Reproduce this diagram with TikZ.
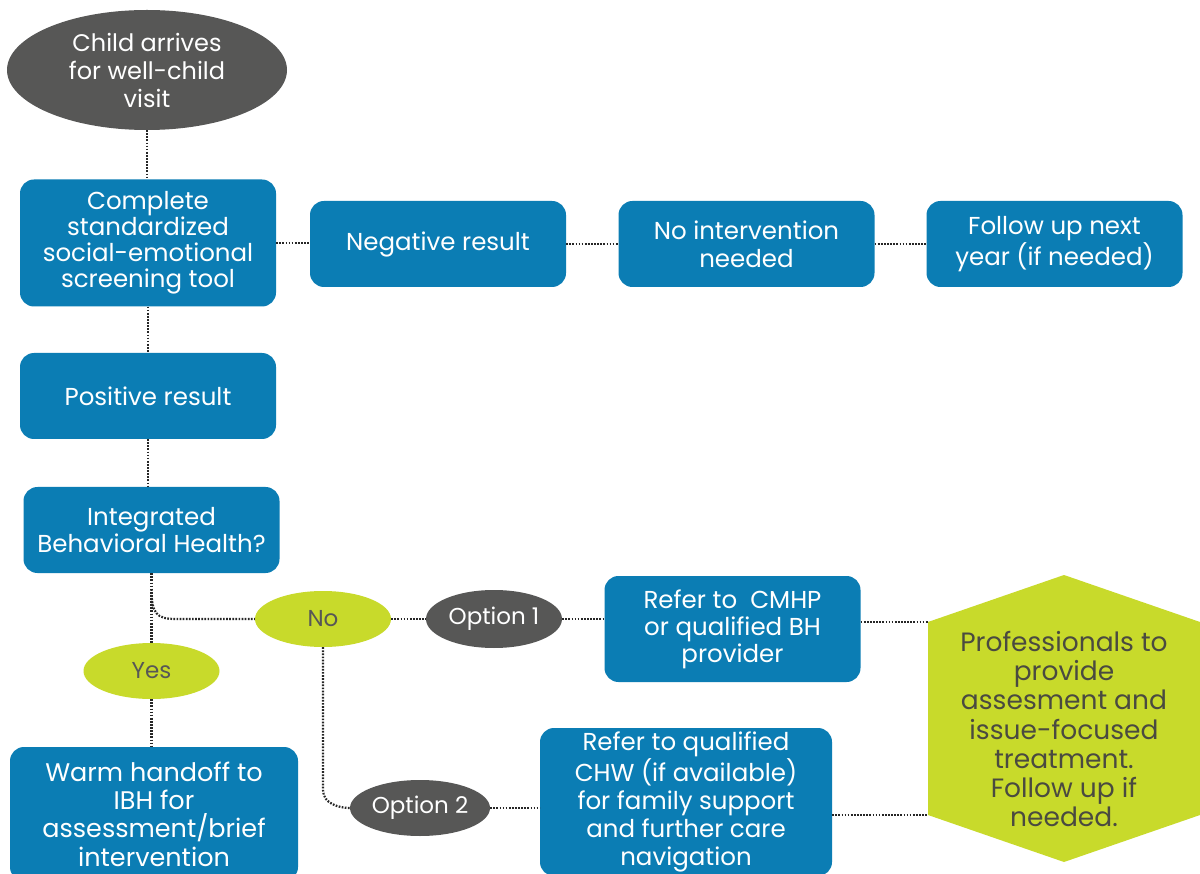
\documentclass[tikz,border=0pt]{standalone}
\usepackage{fontspec}
\setmainfont{Poppins}
\usetikzlibrary{shapes.geometric}
\definecolor{flowblue}{HTML}{0B7DB4}
\definecolor{flowgray}{HTML}{575756}
\definecolor{flowlime}{HTML}{C8DA2B}
\definecolor{hextext}{HTML}{4A4A40}

\begin{document}
\begin{tikzpicture}[x=1pt, y=-1pt,
  every node/.style={font=\fontsize{24.5}{27}\selectfont, align=center, inner sep=0pt},
  bluebox/.style={fill=flowblue, text=white, rounded corners=14pt, minimum width=256pt, minimum height=86pt},
  grayoval/.style={ellipse, fill=flowgray, text=white, minimum width=136pt, minimum height=58pt, font=\fontsize{23}{27}\selectfont},
  limeoval/.style={ellipse, fill=flowlime, text=flowgray, minimum width=136pt, minimum height=56pt, font=\fontsize{23}{27}\selectfont},
  link/.style={draw=black!85, line width=2.2pt, dash pattern=on 1.7pt off 1.4pt}]
  \fill[white] (0,0) rectangle (1200,874);
  \useasboundingbox (0,0) rectangle (1200,874);
  \node[grayoval, minimum width=280pt, minimum height=120pt, font=\fontsize{24}{28}\selectfont] (arrive) at (147,70) {Child arrives\\for well-child\\visit};
  \node[bluebox, minimum height=127pt, font=\fontsize{24.5}{26}\selectfont] (screen) at (148,243) {Complete\\standardized\\social-emotional\\screening tool};
  \node[bluebox] (neg) at (438,244) {Negative result};
  \node[bluebox, font=\fontsize{24.5}{28}\selectfont] (noint) at (746.5,244) {No intervention\\needed};
  \node[bluebox, font=\fontsize{24.5}{28}\selectfont] (follow) at (1054.5,244) {Follow up next\\year (if needed)};
  \node[bluebox] (pos) at (148,396) {Positive result};
  \node[bluebox] (ibh) at (151.5,530) {Integrated\\Behavioral Health?};
  \node[limeoval] (no) at (323,619) {No};
  \node[limeoval] (yes) at (151.5,671) {Yes};
  \node[grayoval] (opt1) at (494,619) {Option 1};
  \node[grayoval, minimum width=140pt, minimum height=56pt] (opt2) at (420,808) {Option 2};
  \node[bluebox, minimum height=106pt] (cmhp) at (732.5,629) {Refer to\ \ CMHP\\or qualified BH\\provider};
  \node[bluebox, minimum width=292pt, minimum height=148pt, font=\fontsize{24.5}{28}\selectfont] (chw) at (686,802) {Refer to qualified\\CHW (if available)\\for family support\\and further care\\navigation};
  \node[bluebox, minimum width=288pt, minimum height=134pt, font=\fontsize{25.5}{28.3}\selectfont] (warm) at (154,814) {Warm handoff to\\IBH for\\assessment/brief\\intervention};
  \fill[flowlime] (1064,575) -- (1200,622) -- (1200,815) -- (1064,862) -- (928,815) -- (928,622) -- cycle;
  \coordinate (hexA) at (928,622);
  \coordinate (hexB) at (928,815);
  \node[text=hextext, font=\fontsize{26.5}{29.3}\selectfont] (prof) at (1064,729) {Professionals to\\provide\\assesment and\\issue-focused\\treatment.\\Follow up if\\needed.};
  \draw[link] (arrive.south) -- (arrive.south |- screen.north);
  \draw[link] (screen.east) -- (screen.east -| neg.west);
  \draw[link] (neg.east) -- (noint.west);
  \draw[link] (noint.east) -- (follow.west);
  \draw[link] (screen.south) -- (pos.north);
  \draw[link] (pos.south) -- (pos.south |- ibh.north);
  \draw[link] (ibh.south) -- (yes.north);
  \draw[link] (yes.south) -- (yes.south |- warm.north);
  \draw[link] ([yshift=-16pt]ibh.south) .. controls ([yshift=-40pt]ibh.south) and ([xshift=5pt]ibh.south |- no.west) .. ([xshift=24pt]ibh.south |- no.west) -- (no.west);
  \draw[link] (no.east) -- (opt1.west);
  \draw[link] (opt1.east) -- (opt1.east -| cmhp.west);
  \draw[link] (hexA -| cmhp.east) -- (hexA);
  \draw[link] (no.south) -- ([yshift=18pt]no.south |- opt2.west) .. controls ([yshift=4pt]no.south |- opt2.west) and ([xshift=-10pt]opt2.west) .. (opt2.west);
  \draw[link] (opt2.east) -- (opt2.east -| chw.west);
  \draw[link] (hexB -| chw.east) -- (hexB);
\end{tikzpicture}
\end{document}
